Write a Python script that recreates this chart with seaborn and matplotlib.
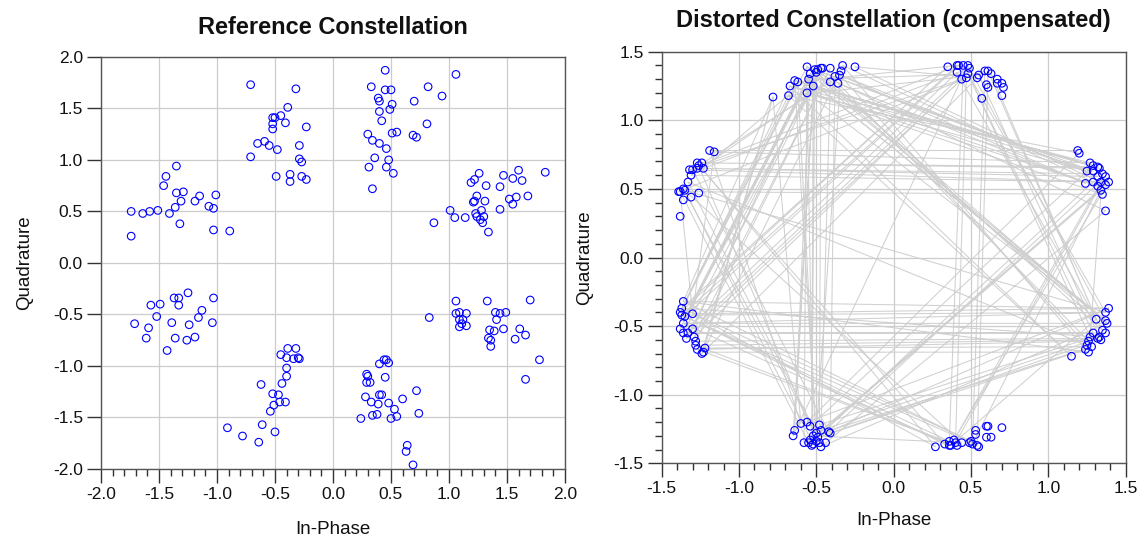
import numpy as np
import pandas as pd
import seaborn as sns
import matplotlib.pyplot as plt
from matplotlib.ticker import MultipleLocator

# reference constellation
ref_i = [-1.74, -1.74, -1.64, -1.58, -1.51, -1.41, -1.36, -1.32, -1.35, -1.29, -1.31, -1.46, -1.44, -1.35,
         -1.19, -1.15, -1.07, -1.03, -1.01, -1.03, -0.89,
         -0.71, -0.32, -0.39, -0.45, -0.52, -0.50, -0.52, -0.52, -0.41, -0.23, -0.65, -0.59, -0.55, -0.48,
         -0.29, -0.71, -0.29, -0.27, -0.49, -0.37, -0.37, -0.27, -0.23,
         0.45, 1.06, 0.33, 0.45, 0.50, 0.82, 0.94, 0.39, 0.40, 0.70, 0.51, 0.49, 0.40, 0.42, 0.81, 0.30,
         0.34, 0.51, 0.55, 0.69, 0.72, 0.40, 0.46, 0.36, 0.48, 0.31, 0.46, 0.52, 0.34,
         1.83, 1.60, 1.47, 1.55, 1.63, 1.26, 1.22, 1.19, 1.32, 1.44, 1.24, 1.22, 1.21, 1.31, 1.52, 1.58,
         1.55, 1.68, 1.44, 1.01, 1.05, 1.14, 1.23, 1.28, 1.24, 1.30, 1.27, 1.29, 0.87, 1.34,
         -1.25, -1.37, -1.33, -1.03, -1.57, -1.49, -1.33, -1.13, -1.52, -1.16, -1.71, -1.39, -1.24, -1.04,
         -1.59, -1.61, -1.36, -1.26, -1.19, -1.43,
         -0.39, -0.32, -0.45, -0.40, -0.34, -0.30, -0.29, -0.40, -0.40, -0.44, -0.62, -0.52, -0.47, -0.46,
         -0.41, -0.51, -0.54, -0.61, -0.91, -0.78, -0.64, -0.50,
         1.06, 1.33, 1.70, 1.06, 1.09, 1.15, 1.09, 1.12, 1.11, 1.15, 1.09, 1.40, 1.44, 1.49, 1.41, 1.35,
         1.39, 1.47, 1.61, 1.66, 1.57, 1.34, 1.36, 1.36, 1.78, 1.66, 0.83,
         0.44, 0.46, 0.48, 0.40, 0.45, 0.29, 0.30, 0.29, 0.32, 0.72, 0.28, 0.40, 0.42, 0.33, 0.39, 0.48,
         0.60, 0.53, 0.34, 0.38, 0.24, 0.50, 0.55, 0.74, 0.64, 0.63, 0.69]
ref_q = [0.50, 0.26, 0.48, 0.50, 0.51, 0.48, 0.54, 0.38, 0.68, 0.69, 0.60, 0.75, 0.84, 0.94,
         0.60, 0.65, 0.55, 0.53, 0.66, 0.32, 0.31,
         1.73, 1.69, 1.51, 1.43, 1.41, 1.41, 1.35, 1.30, 1.36, 1.32, 1.16, 1.18, 1.14, 1.10,
         1.14, 1.03, 1.01, 0.98, 0.84, 0.86, 0.79, 0.84, 0.81,
         1.87, 1.83, 1.71, 1.68, 1.68, 1.71, 1.62, 1.60, 1.57, 1.57, 1.54, 1.49, 1.47, 1.38, 1.35, 1.25,
         1.19, 1.26, 1.27, 1.24, 1.22, 1.16, 1.11, 1.02, 1.00, 0.93, 0.93, 0.87, 0.72,
         0.88, 0.90, 0.85, 0.82, 0.80, 0.87, 0.81, 0.78, 0.75, 0.74, 0.65, 0.60, 0.59, 0.60, 0.62, 0.64,
         0.57, 0.65, 0.52, 0.51, 0.44, 0.44, 0.48, 0.51, 0.45, 0.45, 0.42, 0.39, 0.39, 0.30,
         -0.29, -0.34, -0.34, -0.34, -0.41, -0.40, -0.41, -0.46, -0.52, -0.53, -0.59, -0.58, -0.60, -0.58,
         -0.63, -0.73, -0.73, -0.75, -0.72, -0.85,
         -0.83, -0.83, -0.89, -0.92, -0.93, -0.92, -0.93, -1.02, -1.10, -1.17, -1.18, -1.27, -1.28, -1.35,
         -1.35, -1.38, -1.44, -1.57, -1.60, -1.68, -1.74, -1.64,
         -0.37, -0.37, -0.36, -0.49, -0.48, -0.49, -0.55, -0.55, -0.59, -0.61, -0.62, -0.48, -0.49, -0.48,
         -0.55, -0.65, -0.66, -0.64, -0.64, -0.70, -0.74, -0.73, -0.75, -0.81, -0.94, -1.13, -0.53,
         -0.94, -0.94, -0.97, -0.98, -1.11, -1.08, -1.10, -1.16, -1.16, -1.24, -1.30, -1.28, -1.28, -1.35,
         -1.37, -1.36, -1.32, -1.42, -1.48, -1.47, -1.51, -1.51, -1.49, -1.46, -1.77, -1.83, -1.96]

# compensated constellation, one list per cluster, going round the circle
# p0 = right-upper, p1 = top-right, p2 = top-left, p3 = left-upper,
# p4 = left-lower, p5 = bottom-left, p6 = bottom-right, p7 = right-lower
p0_i = [1.19, 1.20, 1.27, 1.29, 1.32, 1.33, 1.25, 1.29, 1.35, 1.32, 1.37, 1.39, 1.34, 1.24,
        1.29, 1.37, 1.32, 1.34, 1.35, 1.37]
p0_q = [0.78, 0.76, 0.69, 0.67, 0.66, 0.65, 0.63, 0.63, 0.61, 0.59, 0.59, 0.55, 0.55, 0.54,
        0.55, 0.53, 0.52, 0.49, 0.46, 0.34]
p1_i = [0.35, 0.41, 0.42, 0.45, 0.48, 0.49, 0.41, 0.48, 0.44, 0.47, 0.54, 0.55, 0.59, 0.61,
        0.63, 0.67, 0.67, 0.70, 0.71, 0.60, 0.61, 0.70, 0.57]
p1_q = [1.39, 1.40, 1.40, 1.40, 1.40, 1.38, 1.35, 1.34, 1.30, 1.31, 1.31, 1.33, 1.36, 1.36,
        1.34, 1.30, 1.27, 1.27, 1.24, 1.26, 1.24, 1.18, 1.16]
p2_i = [-0.78, -0.68, -0.67, -0.64, -0.62, -0.56, -0.56, -0.55, -0.54, -0.52, -0.51, -0.50, -0.49, -0.47,
        -0.46, -0.41, -0.41, -0.38, -0.36, -0.35, -0.34, -0.33, -0.25]
p2_q = [1.17, 1.18, 1.25, 1.29, 1.28, 1.39, 1.20, 1.30, 1.34, 1.25, 1.37, 1.35, 1.37, 1.38,
        1.38, 1.38, 1.28, 1.32, 1.27, 1.33, 1.36, 1.40, 1.39]
p3_i = [-1.19, -1.16, -1.27, -1.24, -1.26, -1.23, -1.27, -1.30, -1.32, -1.31, -1.33, -1.36, -1.38, -1.39,
        -1.35, -1.26, -1.36, -1.31, -1.38]
p3_q = [0.78, 0.77, 0.69, 0.69, 0.67, 0.65, 0.65, 0.64, 0.64, 0.60, 0.55, 0.50, 0.48, 0.48,
        0.49, 0.47, 0.42, 0.44, 0.30]
p4_i = [-1.36, -1.37, -1.38, -1.30, -1.37, -1.35, -1.36, -1.38, -1.30, -1.36, -1.33, -1.34, -1.29, -1.28,
        -1.28, -1.27, -1.22, -1.24, -1.23]
p4_q = [-0.32, -0.37, -0.40, -0.41, -0.42, -0.43, -0.48, -0.52, -0.52, -0.55, -0.55, -0.59, -0.58, -0.61,
        -0.64, -0.67, -0.66, -0.70, -0.69]
p5_i = [-0.60, -0.56, -0.54, -0.64, -0.65, -0.48, -0.47, -0.42, -0.41, -0.50, -0.52, -0.49, -0.54, -0.50,
        -0.58, -0.55, -0.52, -0.53, -0.47, -0.44, -0.48]
p5_q = [-1.21, -1.20, -1.23, -1.26, -1.30, -1.22, -1.26, -1.27, -1.28, -1.28, -1.30, -1.31, -1.33, -1.34,
        -1.35, -1.35, -1.36, -1.37, -1.38, -1.35, -1.35]
p6_i = [0.27, 0.33, 0.36, 0.37, 0.40, 0.39, 0.41, 0.44, 0.50, 0.51, 0.54, 0.55, 0.53, 0.53,
        0.60, 0.63, 0.60, 0.61, 0.70, 0.49, 0.36]
p6_q = [-1.38, -1.36, -1.34, -1.37, -1.35, -1.33, -1.37, -1.35, -1.34, -1.36, -1.37, -1.38, -1.29, -1.26,
        -1.31, -1.31, -1.23, -1.23, -1.24, -1.35, -1.37]
p7_i = [1.39, 1.37, 1.31, 1.37, 1.38, 1.35, 1.37, 1.29, 1.27, 1.32, 1.34, 1.26, 1.25, 1.28,
        1.24, 1.26, 1.33, 1.15]
p7_q = [-0.37, -0.40, -0.45, -0.46, -0.48, -0.53, -0.55, -0.55, -0.58, -0.59, -0.60, -0.61, -0.64, -0.65,
        -0.67, -0.69, -0.58, -0.72]

# phase jumps between successive symbols (in 45 degree steps)
jumps = [3, 2, -3, 2, 3, -2, 3, 2, 2, -3, 3, -2, -2, 3, 1, 2, -3, 2, 3, 2,
         -2, 3, -3, 2, -1, 3, 2, -3, -2, 3, 2, 3, -2, -3, 2, 1, 3, -2, 2, -3,
         3, 2, -2, 3, -3, -2, 2, 3, 4, -2, 3, 2, -3, 2, -1, -3, 2, 3, -2, 3,
         2, -3, 3, 2, -2, 1, 3, -3, 2, 2, -3, 3, -2, 2, 3, -2, -3, 1, 2, 3,
         -2, 3, 2, -3, -2, 2, 3, -1, 3, 2, -3, 2, -2, 3, 3, -2, 2, -3, 4, 2,
         -3, 2, 3, -2, 1, -3, 2, 3, 2, -3, -2, 3, 2, -1, 3, -2, 2, 3, -3, 2,
         -2, 3, 2, 1, -3, 3, -2, 2, 3, -3, 2, -2, 3, 2, -3, -1, 2, 3, -2, 3,
         2, -3, 2, 3, -2, 4, -3, 2, 3, -2, 2, 1, -3, 3, 2, -2, 3, -3, 2, 3,
         -2, 3, 2]

clusters = [(p0_i, p0_q), (p1_i, p1_q), (p2_i, p2_q), (p3_i, p3_q),
            (p4_i, p4_q), (p5_i, p5_q), (p6_i, p6_q), (p7_i, p7_q)]

# walk through the received symbols, taking the next point of each cluster
used = [0] * 8
path_i, path_q = [], []
k = 0
for j in [0] + jumps:
    k = (k + j) % 8
    ci, cq = clusters[k]
    n = used[k] % len(ci)
    path_i.append(ci[n])
    path_q.append(cq[n])
    used[k] += 1
path = pd.DataFrame({"i": path_i, "q": path_q})

all_i = sum([c[0] for c in clusters], [])
all_q = sum([c[1] for c in clusters], [])

sns.set_theme(style="whitegrid")
plt.rcParams['font.family'] = ['Liberation Sans', 'DejaVu Sans']
plt.rcParams.update({
    "axes.edgecolor": "#555555",
    "axes.linewidth": 1.0,
    "grid.color": "#cccccc",
    "grid.linewidth": 0.9,
    "xtick.bottom": True,
    "ytick.left": True,
    "xtick.color": "#333333",
    "ytick.color": "#333333",
    "xtick.labelcolor": "#111111",
    "ytick.labelcolor": "#111111",
    "text.color": "#111111",
    "axes.labelcolor": "#111111",
})

fig = plt.figure(figsize=(11.4, 5.48), dpi=100)
ax1 = fig.add_axes([0.0886, 0.1442, 0.407, 0.752])
ax2 = fig.add_axes([0.5804, 0.1546, 0.407, 0.751])

circ = dict(marker="o", s=30, facecolors="none", edgecolor="#0000ff", linewidth=0.8)

# left: reference
ax1.scatter(ref_i, ref_q, **circ, zorder=3)
ax1.set_xlim(-2, 2)
ax1.set_ylim(-2, 2)
ax1.xaxis.set_major_locator(MultipleLocator(0.5))
ax1.yaxis.set_major_locator(MultipleLocator(0.5))
ax1.xaxis.set_minor_locator(MultipleLocator(0.1))
ax1.set_title("Reference Constellation", fontsize=17, fontweight="bold", pad=16.5)
ax1.set_xlabel("In-Phase", fontsize=13.5, labelpad=14)
ax1.set_ylabel("Quadrature", fontsize=13.5, labelpad=14)

# right: distorted (compensated)
sns.lineplot(data=path, x="i", y="q", sort=False, estimator=None, color="#d0d0d0",
             linewidth=0.75, ax=ax2, zorder=2)
ax2.scatter(all_i, all_q, **circ, zorder=3)
ax2.set_xlim(-1.5, 1.5)
ax2.set_ylim(-1.5, 1.5)
ax2.xaxis.set_major_locator(MultipleLocator(0.5))
ax2.yaxis.set_major_locator(MultipleLocator(0.5))
ax2.xaxis.set_minor_locator(MultipleLocator(0.1))
ax2.yaxis.set_minor_locator(MultipleLocator(0.1))
ax2.set_title("Distorted Constellation (compensated)", fontsize=17, fontweight="bold", pad=17.5)
ax2.set_xlabel("In-Phase", fontsize=13.5, labelpad=11)
ax2.set_ylabel("Quadrature", fontsize=13.5, labelpad=15)

for ax in (ax1, ax2):
    ax.set_axisbelow(True)
    ax.grid(True, which="major")
    ax.grid(False, which="minor")
    ax.tick_params(which="major", direction="out", length=10, width=1, labelsize=12.5, pad=3)
    ax.tick_params(which="minor", direction="out", length=5, width=1)
    for sp in ax.spines.values():
        sp.set_visible(True)
    ax.xaxis.set_major_formatter(plt.FormatStrFormatter("%.1f"))
    ax.yaxis.set_major_formatter(plt.FormatStrFormatter("%.1f"))

fig.savefig("out.png", dpi=100)
